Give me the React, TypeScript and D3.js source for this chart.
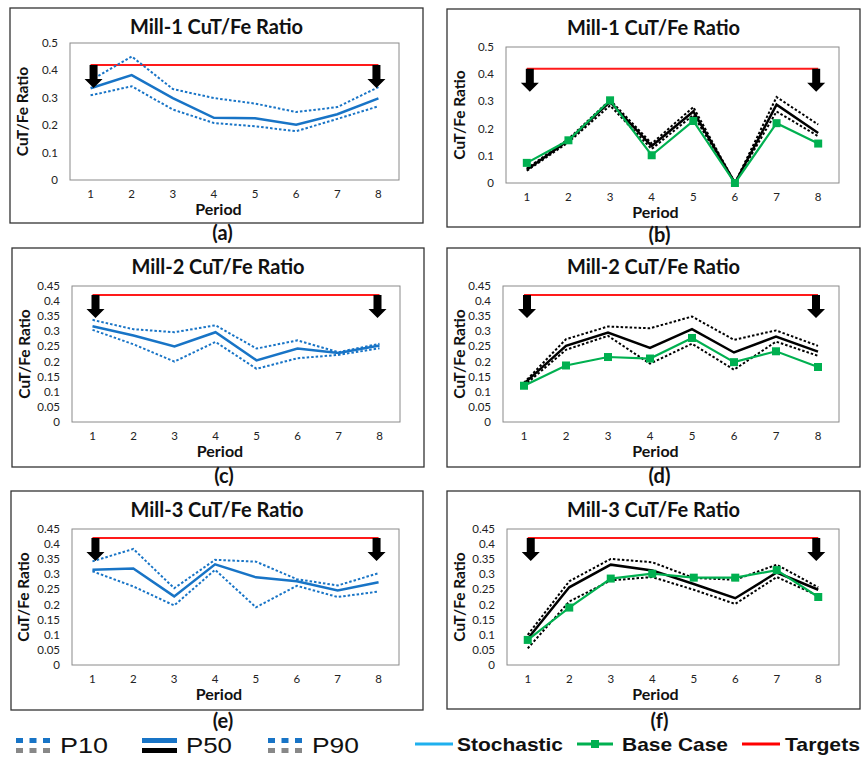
import React from "react";
import * as d3 from "d3";

// Periods on the x axis
const periods = [1, 2, 3, 4, 5, 6, 7, 8];
const target = 0.42;

// Mill-1 stochastic schedule (P10 / P50 / P90)
const mill1StochP10 = [0.309, 0.342, 0.257, 0.208, 0.196, 0.178, 0.223, 0.269];
const mill1StochP50 = [0.335, 0.383, 0.299, 0.227, 0.225, 0.202, 0.24, 0.298];
const mill1StochP90 = [0.363, 0.451, 0.332, 0.299, 0.279, 0.248, 0.266, 0.339];
// Mill-1 base case schedule evaluated over simulations + base case
const mill1BaseP10 = [0.045, 0.15, 0.285, 0.125, 0.25, 0.0, 0.263, 0.172];
const mill1BaseP50 = [0.049, 0.157, 0.298, 0.136, 0.263, 0.0, 0.288, 0.184];
const mill1BaseP90 = [0.053, 0.162, 0.305, 0.145, 0.279, 0.0, 0.316, 0.215];
const mill1Base = [0.074, 0.157, 0.304, 0.102, 0.228, 0.0, 0.22, 0.145];

// Mill-2
const mill2StochP10 = [0.305, 0.257, 0.2, 0.265, 0.176, 0.211, 0.222, 0.244];
const mill2StochP50 = [0.317, 0.286, 0.25, 0.297, 0.204, 0.243, 0.228, 0.253];
const mill2StochP90 = [0.338, 0.307, 0.297, 0.32, 0.243, 0.27, 0.231, 0.259];
const mill2BaseP10 = [0.12, 0.239, 0.285, 0.193, 0.259, 0.173, 0.266, 0.219];
const mill2BaseP50 = [0.127, 0.252, 0.296, 0.245, 0.307, 0.23, 0.283, 0.233];
const mill2BaseP90 = [0.13, 0.274, 0.316, 0.31, 0.349, 0.272, 0.303, 0.252];
const mill2Base = [0.12, 0.187, 0.215, 0.21, 0.278, 0.198, 0.234, 0.182];

// Mill-3
const mill3StochP10 = [0.31, 0.26, 0.197, 0.315, 0.191, 0.262, 0.225, 0.243];
const mill3StochP50 = [0.315, 0.319, 0.227, 0.333, 0.29, 0.277, 0.247, 0.274];
const mill3StochP90 = [0.343, 0.384, 0.254, 0.348, 0.342, 0.284, 0.263, 0.304];
const mill3BaseP10 = [0.055, 0.21, 0.28, 0.291, 0.249, 0.202, 0.291, 0.229];
const mill3BaseP50 = [0.087, 0.257, 0.332, 0.313, 0.268, 0.221, 0.306, 0.249];
const mill3BaseP90 = [0.1, 0.277, 0.351, 0.34, 0.288, 0.282, 0.332, 0.257];
const mill3Base = [0.083, 0.19, 0.286, 0.302, 0.289, 0.289, 0.314, 0.225];

const ticks05 = [0, 0.1, 0.2, 0.3, 0.4, 0.5];
const ticks045 = [0, 0.05, 0.1, 0.15, 0.2, 0.25, 0.3, 0.35, 0.4, 0.45];

const BLUE = "#1874c6";
const GREEN = "#00b050";
const RED = "#ff1a1a";
const LIGHTBLUE = "#1fb0ee";
const FONT = "Lato, 'Open Sans', sans-serif";
const ARIAL = "'Liberation Sans', Arial, sans-serif";

type Frame = { x: number; y: number; w: number; h: number };
type Plot = { l: number; t: number; r: number; b: number };

interface PanelProps {
  title: string;
  letter: string;
  frame: Frame;
  plot: Plot;
  yMax: number;
  ticks: number[];
  p10: number[];
  p50: number[];
  p90: number[];
  base?: number[];
  color: string;
  letterY: number;
}

function Arrow({ x, y }: { x: number; y: number }) {
  const sw = 8, hw = 18, sh = 14, hh = 9;
  const d = `M${x - sw / 2},${y} L${x + sw / 2},${y} L${x + sw / 2},${y + sh} L${x + hw / 2},${y + sh} L${x},${y + sh + hh} L${x - hw / 2},${y + sh} L${x - sw / 2},${y + sh} Z`;
  return <path d={d} fill="#000" />;
}

function Panel(props: PanelProps) {
  const { title, letter, frame, plot, yMax, ticks, p10, p50, p90, base, color, letterY } = props;
  const bw = (plot.r - plot.l) / periods.length;
  const x = d3.scalePoint<number>().domain(periods).range([plot.l + bw / 2, plot.r - bw / 2]);
  const y = d3.scaleLinear().domain([0, yMax]).range([plot.b, plot.t]);
  const line = d3
    .line<number>()
    .x((_, i) => x(periods[i]) as number)
    .y((v) => y(v));
  const fmt = (v: number) => (v === 0 ? "0" : String(+v.toFixed(2)));
  const cx = frame.x + frame.w / 2;
  const x1 = x(periods[0]) as number;
  const x8 = x(periods[periods.length - 1]) as number;
  return (
    <g>
      <rect x={frame.x} y={frame.y} width={frame.w} height={frame.h} fill="#fff" stroke="#333" strokeWidth={1.3} />
      <text x={cx} y={frame.y + 26} textAnchor="middle" fontFamily={FONT} fontWeight="bold" fontSize={20} fill="#111">
        {title}
      </text>
      <rect x={plot.l} y={plot.t} width={plot.r - plot.l} height={plot.b - plot.t} fill="none" stroke="#8a8a8a" strokeWidth={1} />
      {ticks.map((t) => (
        <text key={t} x={plot.l - 12} y={y(t) + 4} textAnchor="end" fontFamily={FONT} fontSize={11.5} fill="#222">
          {fmt(t)}
        </text>
      ))}
      {periods.map((p) => (
        <text key={p} x={x(p)} y={plot.b + 18} textAnchor="middle" fontFamily={FONT} fontSize={11.5} fill="#222">
          {p}
        </text>
      ))}
      <text x={cx + 2} y={plot.b + 35} textAnchor="middle" fontFamily={FONT} fontWeight="bold" fontSize={16} fill="#111">
        Period
      </text>
      <text
        transform={`translate(${frame.x + 18},${(plot.t + plot.b) / 2}) rotate(-90)`}
        textAnchor="middle"
        fontFamily={FONT}
        fontWeight="bold"
        fontSize={15.5}
        fill="#111"
      >
        CuT/Fe Ratio
      </text>
      <line x1={x1} x2={x8} y1={y(target)} y2={y(target)} stroke={RED} strokeWidth={2} />
      <path d={line(p10) || ""} fill="none" stroke={color} strokeWidth={2} strokeDasharray="2.5 2" />
      <path d={line(p90) || ""} fill="none" stroke={color} strokeWidth={2} strokeDasharray="2.5 2" />
      <path d={line(p50) || ""} fill="none" stroke={color} strokeWidth={2.5} />
      {base && (
        <g>
          <path d={line(base) || ""} fill="none" stroke={GREEN} strokeWidth={2.2} />
          {base.map((v, i) => (
            <rect key={i} x={(x(periods[i]) as number) - 4} y={y(v) - 4} width={8} height={8} fill={GREEN} />
          ))}
        </g>
      )}
      <Arrow x={x1 + 3} y={y(target)} />
      <Arrow x={x8 - 2} y={y(target)} />
      <text x={cx + 6} y={letterY} textAnchor="middle" fontFamily={FONT} fontWeight="bold" fontSize={20} fill="#111">
        {letter}
      </text>
    </g>
  );
}

function Legend() {
  const y0 = 738;
  const dots = (x0: number) =>
    [0, 1, 2].flatMap((k) => [
      <rect key={`b${x0}${k}`} x={x0 + k * 13.5} y={y0} width={7} height={5} fill={BLUE} />,
      <rect key={`g${x0}${k}`} x={x0 + k * 13.5} y={y0 + 10} width={7} height={5} fill="#888" />,
    ]);
  return (
    <g>
      {dots(16)}
      <text x={60} y={753} fontFamily={ARIAL} fontSize={22} textLength={48} lengthAdjust="spacingAndGlyphs" fill="#111">P10</text>
      <rect x={142} y={y0} width={35} height={5} fill={BLUE} />
      <rect x={142} y={y0 + 10} width={35} height={5} fill="#000" />
      <text x={186} y={753} fontFamily={ARIAL} fontSize={22} textLength={46} lengthAdjust="spacingAndGlyphs" fill="#111">P50</text>
      {dots(268)}
      <text x={312} y={753} fontFamily={ARIAL} fontSize={22} textLength={47} lengthAdjust="spacingAndGlyphs" fill="#111">P90</text>

      <line x1={415} x2={453} y1={744} y2={744} stroke={LIGHTBLUE} strokeWidth={3} />
      <text x={457} y={751} fontFamily={ARIAL} fontWeight="bold" fontSize={19} textLength={106} lengthAdjust="spacingAndGlyphs" fill="#111">Stochastic</text>
      <line x1={577} x2={613} y1={744} y2={744} stroke={GREEN} strokeWidth={3} />
      <rect x={591} y={740} width={8} height={8} fill={GREEN} />
      <text x={622} y={751} fontFamily={ARIAL} fontWeight="bold" fontSize={19} textLength={106} lengthAdjust="spacingAndGlyphs" fill="#111">Base Case</text>
      <line x1={742} x2={780} y1={744} y2={744} stroke="#ff0000" strokeWidth={3} />
      <text x={785} y={751} fontFamily={ARIAL} fontWeight="bold" fontSize={19} textLength={75} lengthAdjust="spacingAndGlyphs" fill="#111">Targets</text>
    </g>
  );
}

export default function App() {
  return (
    <svg
      width={861}
      height={761}
      style={{ position: "absolute", left: 0, top: 0, background: "#fff" }}
    >
      <rect width={861} height={761} fill="#fff" />
      <Panel
        title="Mill-1 CuT/Fe Ratio" letter="(a)" letterY={240}
        frame={{ x: 10, y: 8, w: 413, h: 215 }} plot={{ l: 70, t: 43, r: 399, b: 180 }}
        yMax={0.5} ticks={ticks05}
        p10={mill1StochP10} p50={mill1StochP50} p90={mill1StochP90} color={BLUE}
      />
      <Panel
        title="Mill-1 CuT/Fe Ratio" letter="(b)" letterY={242}
        frame={{ x: 447, y: 9, w: 413, h: 218 }} plot={{ l: 506, t: 47, r: 839, b: 183 }}
        yMax={0.5} ticks={ticks05}
        p10={mill1BaseP10} p50={mill1BaseP50} p90={mill1BaseP90} base={mill1Base} color="#000"
      />
      <Panel
        title="Mill-2 CuT/Fe Ratio" letter="(c)" letterY={483}
        frame={{ x: 12, y: 248, w: 412, h: 219 }} plot={{ l: 72, t: 286, r: 400, b: 422 }}
        yMax={0.45} ticks={ticks045}
        p10={mill2StochP10} p50={mill2StochP50} p90={mill2StochP90} color={BLUE}
      />
      <Panel
        title="Mill-2 CuT/Fe Ratio" letter="(d)" letterY={483}
        frame={{ x: 447, y: 248, w: 413, h: 219 }} plot={{ l: 503, t: 286, r: 839, b: 422 }}
        yMax={0.45} ticks={ticks045}
        p10={mill2BaseP10} p50={mill2BaseP50} p90={mill2BaseP90} base={mill2Base} color="#000"
      />
      <Panel
        title="Mill-3 CuT/Fe Ratio" letter="(e)" letterY={728}
        frame={{ x: 11, y: 491, w: 412, h: 219 }} plot={{ l: 72, t: 529, r: 399, b: 665 }}
        yMax={0.45} ticks={ticks045}
        p10={mill3StochP10} p50={mill3StochP50} p90={mill3StochP90} color={BLUE}
      />
      <Panel
        title="Mill-3 CuT/Fe Ratio" letter="(f)" letterY={728}
        frame={{ x: 447, y: 491, w: 413, h: 218 }} plot={{ l: 507, t: 529, r: 839, b: 665 }}
        yMax={0.45} ticks={ticks045}
        p10={mill3BaseP10} p50={mill3BaseP50} p90={mill3BaseP90} base={mill3Base} color="#000"
      />
      <Legend />
    </svg>
  );
}
